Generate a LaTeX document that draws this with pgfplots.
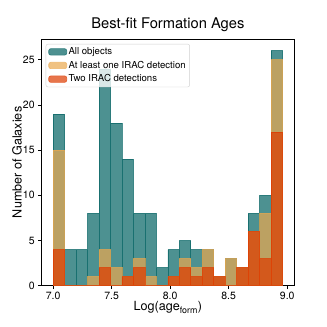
\documentclass[border=0pt]{standalone}
\usepackage{fontspec}
\setmainfont{TeX Gyre Heros}
\usepackage{pgfplots}
\pgfplotsset{compat=1.18}
\definecolor{cteal}{RGB}{2,98,98}
\definecolor{ctan}{RGB}{234,168,78}
\definecolor{corange}{RGB}{222,59,0}
\pgfplotsset{histlegend/.style={legend image code/.code={\draw[##1] (0pt,-3.2pt) rectangle (18pt,3.2pt);}}}
\begin{document}
\begin{tikzpicture}
\useasboundingbox (-41.7pt,-41.3pt) rectangle (285.3pt,285.7pt);
\begin{axis}[
  scale only axis, width=252.3pt, height=246.7pt,
  xmin=6.902, xmax=9.058, ymin=0, ymax=27.3,
  axis line style={line width=1pt},
  every tick/.style={black, line width=0.8pt},
  tick align=outside, tick pos=left,
  major tick length=3.5pt,
  xtick={7,7.5,8,8.5,9}, ytick={0,5,10,15,20,25},
  xticklabel style={yshift=1pt, /pgf/number format/.cd, fixed, fixed zerofill, precision=1},
  /pgf/number format/assume math mode=true,
  tick label style={font=\fontsize{10.5}{12}\selectfont},
  title={Best-fit Formation Ages},
  title style={font=\fontsize{14.7}{17}\selectfont, at={(axis description cs:0.5,1)}, anchor=base, yshift=4.3pt},
  xlabel={Log(age\textsubscript{form})},
  ylabel={Number of Galaxies},
  label style={font=\fontsize{12.6}{15}\selectfont},
  xlabel style={at={(axis description cs:0.5,-0.1025)}, anchor=base},
  ylabel style={at={(axis description cs:-0.080,0.5)}, anchor=base},
  legend cell align=left,
  legend style={at={(rel axis cs:0.016,0.98)}, anchor=north west,
    draw=black!18, fill=white, fill opacity=0.8, text opacity=1,
    rounded corners=2pt, font=\fontsize{9.6}{10}\selectfont,
    inner xsep=2.5pt, inner ysep=2pt, row sep=2pt,
    nodes={inner sep=1.5pt}},
]
\addplot[ybar interval, fill=cteal, draw=cteal, fill opacity=0.7, draw opacity=0.7, line width=0.6pt, histlegend]
coordinates {
(7.000,19) (7.098,4) (7.196,4) (7.294,8) (7.392,24) (7.490,18) (7.588,14) (7.686,8) (7.784,8) (7.882,2)
(7.980,4) (8.078,5) (8.176,4) (8.274,4) (8.372,1) (8.470,3) (8.568,2) (8.666,8) (8.764,10) (8.862,26) (8.960,26)
};
\addlegendentry{All objects}
\addplot[ybar interval, fill=ctan, draw=ctan, fill opacity=0.7, draw opacity=0.7, line width=0.6pt, histlegend]
coordinates {
(7.000,15) (7.098,0) (7.196,0) (7.294,1) (7.392,4) (7.490,2) (7.588,1) (7.686,3) (7.784,1) (7.882,0)
(7.980,1) (8.078,3) (8.176,2) (8.274,4) (8.372,1) (8.470,3) (8.568,2) (8.666,6) (8.764,8) (8.862,25) (8.960,25)
};
\addlegendentry{At least one IRAC detection}
\addplot[ybar interval, fill=corange, draw=corange, fill opacity=0.7, draw opacity=0.7, line width=0.6pt, histlegend]
coordinates {
(7.000,4) (7.098,0) (7.196,0) (7.294,0) (7.392,2) (7.490,0) (7.588,1) (7.686,2) (7.784,0) (7.882,0)
(7.980,1) (8.078,2) (8.176,1) (8.274,2) (8.372,1) (8.470,0) (8.568,2) (8.666,6) (8.764,3) (8.862,17) (8.960,17)
};
\addlegendentry{Two IRAC detections}
\end{axis}
\end{tikzpicture}
\end{document}
